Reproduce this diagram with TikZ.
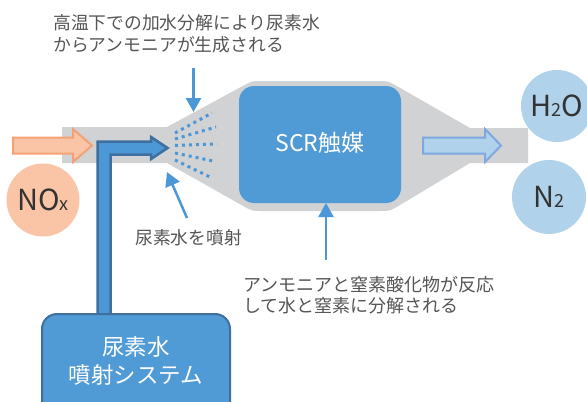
\documentclass[tikz,border=0pt]{standalone}
\usepackage{fontspec}
\setmainfont{Noto Sans CJK JP}
\usetikzlibrary{arrows.meta,calc}
\definecolor{pipegray}{HTML}{D1D2D4}
\definecolor{scrblue}{HTML}{509AD5}
\definecolor{darkblue}{HTML}{3E6F9E}
\definecolor{annblue}{HTML}{4C97D5}
\definecolor{orangefill}{HTML}{F9C5A6}
\definecolor{orangeline}{HTML}{F4A274}
\definecolor{lightblue}{HTML}{B0D3EB}
\definecolor{lbline}{HTML}{7EA8DF}
\definecolor{txtgray}{HTML}{555555}
\definecolor{txtdark}{HTML}{333333}
\tikzset{
  annarrow/.style={draw=annblue, line width=2.5pt, -{Triangle[width=15pt,length=14pt]}},
  spray/.style={draw=annblue, line width=3pt, dash pattern=on 3pt off 4pt},
  anntext/.style={text=txtgray, inner sep=0pt, anchor=west, align=left, font=\fontsize{17.8}{22}\selectfont},
  molecule/.style={circle, inner sep=0pt, text=txtdark, font=\fontsize{29}{29}\selectfont},
  whitetext/.style={text=white, inner sep=0pt, align=center}
}
\begin{document}
\begin{tikzpicture}[x=1pt,y=-1pt]
\useasboundingbox (0,0) rectangle (587,402);
% corner points of the housing
\coordinate (tl) at (252,81);
\coordinate (tr) at (388,81);
\coordinate (br) at (390,211);
\coordinate (bl) at (252,211);
\coordinate (li) at (167,127);
\coordinate (ro) at (470,128);
\coordinate (rb) at (470,163);
\coordinate (lb) at (167,163);
% gray exhaust pipe and catalyst housing
\fill[pipegray] (62,127) -- (li)
  -- ($(tl)!10pt!(li)$) .. controls (tl) .. ($(tl)!10pt!(tr)$)
  -- ($(tr)!10pt!(tl)$) .. controls (tr) .. ($(tr)!10pt!(ro)$)
  -- (ro) -- (528,128) -- (528,163) -- (rb)
  -- ($(br)!10pt!(rb)$) .. controls (br) .. ($(br)!10pt!(bl)$)
  -- ($(bl)!10pt!(br)$) .. controls (bl) .. ($(bl)!10pt!(lb)$)
  -- (lb) -- (62,163) -- cycle;
% SCR catalyst
\node[fill=scrblue, rounded corners=15pt, minimum width=162pt, minimum height=117pt, inner sep=0pt] (scr) at (320,144.5) {};
\node[whitetext, font=\fontsize{23}{23}\selectfont] (scrlabel) at (320,143) {SCR触媒};
% inlet arrow (orange)
\draw[fill=orangefill, draw=orangeline, line width=2pt, line join=miter]
  (13,137.5) -- (73,137.5) -- (73,129) -- (92,145.5) -- (73,162) -- (73,153.5) -- (13,153.5) -- cycle;
% outlet arrow (light blue)
\draw[fill=lightblue, draw=lbline, line width=2pt, line join=miter]
  (423,137.5) -- (485,137.5) -- (485,129) -- (501,145.5) -- (485,162) -- (485,153.5) -- (423,153.5) -- cycle;
% spray
\draw[spray] (175,133) -- (212,113);
\draw[spray] (175,139) -- (216,127);
\draw[spray] (175,145.5) -- (217,144);
\draw[spray] (175,153) -- (213,161);
\draw[spray] (175,160) -- (212,178);
% urea injection line (L-shaped arrow)
\draw[fill=annblue, draw=darkblue, line width=2.5pt, line join=miter]
  (97.5,330) -- (97.5,141.5) -- (151,141.5) -- (151,137) -- (167.5,148) -- (151,159) -- (151,154.5) -- (110.5,154.5) -- (110.5,330) -- cycle;
% urea injection system box
\draw[fill=scrblue, draw=darkblue, line width=2pt, rounded corners=15pt] (42,314) rectangle (230,430);
\node[whitetext, font=\fontsize{22.5}{28}\selectfont] (urea) at (136,361) {尿素水\\噴射システム};
% molecules
\node[molecule, fill=orangefill, minimum size=73pt] (nox) at (43,200) {NO{\fontsize{18}{18}\selectfont x}};
\node[molecule, fill=lightblue, minimum size=72pt] (h2o) at (557,106) {H{\fontsize{18}{18}\selectfont 2}O};
\node[molecule, fill=lightblue, minimum size=74pt] (n2) at (549,197) {N{\fontsize{18}{18}\selectfont 2}};
% annotations
\node[anntext] (hydro) at (53,34) {高温下での加水分解により尿素水\\からアンモニアが生成される};
\coordinate (hydroS) at (193.5,68);
\coordinate (hydroE) at (193.5,112);
\draw[annarrow] (hydroS) -- (hydroE);
\node[anntext] (inject) at (135,238) {尿素水を噴射};
\coordinate (injS) at (187,218);
\coordinate (injE) at (167,172);
\draw[annarrow] (injS) -- (injE);
\node[anntext, font=\fontsize{18}{21}\selectfont] (react) at (243,295.5) {アンモニアと窒素酸化物が反応\\して水と窒素に分解される};
\coordinate (reactS) at (326,260);
\coordinate (reactE) at (326,203);
\draw[annarrow] (reactS) -- (reactE);
\end{tikzpicture}
\end{document}
